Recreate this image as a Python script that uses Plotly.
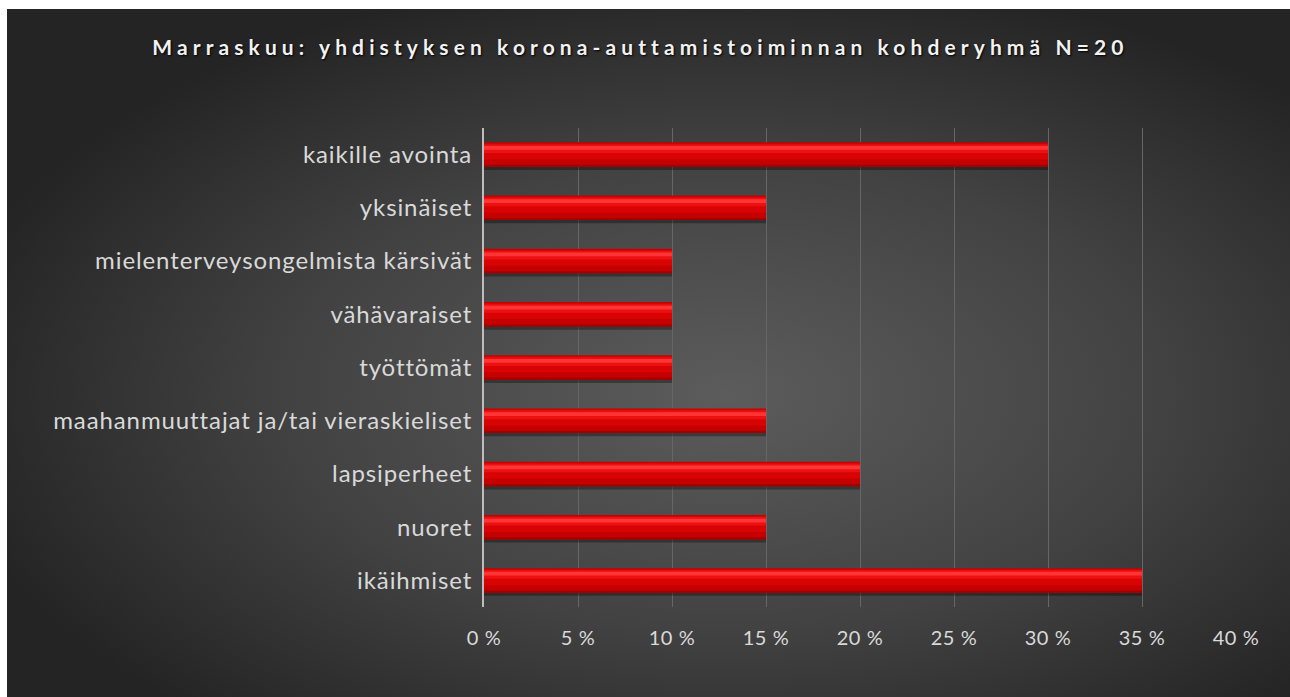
import plotly.graph_objects as go
import urllib.parse

# ---- data (top to bottom as shown) ----
categories = [
    "kaikille avointa",
    "yksinäiset",
    "mielenterveysongelmista kärsivät",
    "vähävaraiset",
    "työttömät",
    "maahanmuuttajat ja/tai vieraskieliset",
    "lapsiperheet",
    "nuoret",
    "ikäihmiset",
]
values = [0.30, 0.15, 0.10, 0.10, 0.10, 0.15, 0.20, 0.15, 0.35]
tick_values = [0, 0.05, 0.10, 0.15, 0.20, 0.25, 0.30, 0.35, 0.40]
tick_labels = ["0 %", "5 %", "10 %", "15 %", "20 %", "25 %", "30 %", "35 %", "40 %"]
title_text = "Marraskuu: yhdistyksen korona-auttamistoiminnan kohderyhmä N=20"

W, H = 1290, 697
L, R, T, B = 484, 54, 128, 90
pw, ph = W - L - R, H - T - B
BG_X0, BG_Y0 = 7, 9  # white strip at left/top

def spaced(s, px):
    return "<span style='letter-spacing:%spx'>%s</span>" % (px, s)

fig = go.Figure()

# shadow
fig.add_trace(go.Bar(y=categories, x=values, orientation="h", width=0.50, offset=-0.21,
                     marker=dict(color="rgba(0,0,0,0.33)", line=dict(width=0)), hoverinfo="skip"))
# base bar
fig.add_trace(go.Bar(y=categories, x=values, orientation="h", width=0.46, offset=-0.23,
                     marker=dict(color="#c40000", line=dict(width=0))))
# main body
fig.add_trace(go.Bar(y=categories, x=values, orientation="h", width=0.30, offset=-0.21,
                     marker=dict(color="#d80404", line=dict(width=0)), hoverinfo="skip"))
# upper lighter band
fig.add_trace(go.Bar(y=categories, x=values, orientation="h", width=0.16, offset=-0.19,
                     marker=dict(color="#ec1010", line=dict(width=0)), hoverinfo="skip"))
# highlight
fig.add_trace(go.Bar(y=categories, x=values, orientation="h", width=0.07, offset=-0.16,
                     marker=dict(color="#ff3434", line=dict(width=0)), hoverinfo="skip"))
# darker bottom edge
fig.add_trace(go.Bar(y=categories, x=values, orientation="h", width=0.04, offset=0.19,
                     marker=dict(color="#a30000", line=dict(width=0)), hoverinfo="skip"))

bw, bh = W - BG_X0, H - BG_Y0
svg = (
    "<svg xmlns='http://www.w3.org/2000/svg' width='%d' height='%d' preserveAspectRatio='none'>"
    "<defs><radialGradient id='g' cx='0.56' cy='0.56' r='0.62' fx='0.56' fy='0.56'>"
    "<stop offset='0' stop-color='#5c5c5c'/>"
    "<stop offset='0.55' stop-color='#424242'/>"
    "<stop offset='1' stop-color='#242424'/>"
    "</radialGradient></defs>"
    "<rect width='%d' height='%d' fill='url(#g)'/></svg>"
) % (bw, bh, bw, bh)
src = "data:image/svg+xml;charset=utf-8," + urllib.parse.quote(svg)

fig.add_layout_image(dict(
    source=src, xref="paper", yref="paper",
    x=(BG_X0 - L) / pw, y=1 + (T - BG_Y0) / ph, sizex=bw / pw, sizey=bh / ph,
    xanchor="left", yanchor="top", sizing="stretch", layer="below",
))

fig.update_layout(
    width=W, height=H,
    margin=dict(l=L, r=R, t=T, b=B, pad=0),
    paper_bgcolor="#ffffff",
    plot_bgcolor="rgba(0,0,0,0)",
    barmode="overlay",
    showlegend=False,
    hovermode=False,
    title=dict(
        text=spaced(title_text, 5.1),
        x=0.4965, xanchor="center", y=1 - 48 / H, yanchor="middle",
        font=dict(family="Lato", size=21, color="#f2f2f2", weight="bold",
                  shadow="1px 1px 2px #000000"),
    ),
    font=dict(family="Lato", color="#d9d9d9"),
)

fig.update_xaxes(
    range=[0, 0.40], tickvals=tick_values,
    ticktext=[spaced(t, 0.6) for t in tick_labels],
    showgrid=True, gridcolor="#666666", gridwidth=1,
    zeroline=False, showline=False,
    ticks="outside", ticklen=13, tickcolor="rgba(0,0,0,0)",
    tickfont=dict(family="Lato", size=20, color="#d9d9d9"),
    fixedrange=True,
)
fig.update_yaxes(
    autorange="reversed", showgrid=False, zeroline=False,
    tickvals=categories, ticktext=[spaced(c, 0.9) for c in categories],
    showline=True, linecolor="#bdbdbd", linewidth=2,
    ticks="outside", ticklen=5, tickcolor="rgba(0,0,0,0)",
    tickfont=dict(family="Lato", size=24, color="#d9d9d9"),
    fixedrange=True,
)

fig.write_html(
    "out.html",
    config={"displayModeBar": False, "staticPlot": True},
    post_script="document.body.style.margin='0';document.body.style.overflow='hidden';",
)
